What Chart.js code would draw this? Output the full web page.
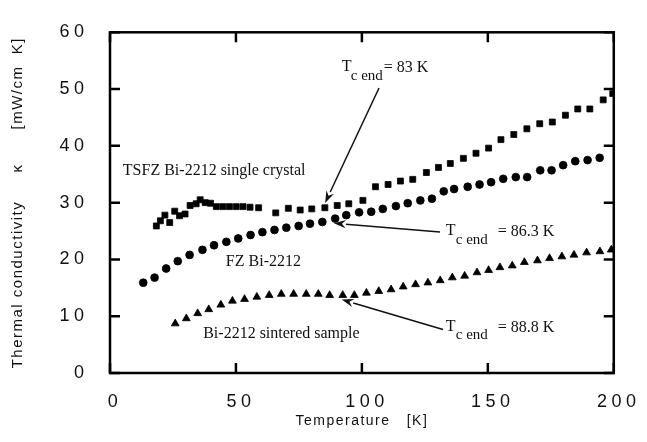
<!DOCTYPE html>
<html><head><meta charset="utf-8">
<style>html,body{margin:0;padding:0;background:#fff}canvas{display:block}</style>
<script src="https://cdn.jsdelivr.net/npm/chart.js@4.4.1/dist/chart.umd.min.js"></script>
</head><body>
<canvas id="c" width="647" height="442"></canvas>
<script>
// ---- tick labels ----
const xTickLabels = [0, 50, 100, 150, 200];
const yTickLabels = [0, 10, 20, 30, 40, 50, 60];

// ---- TSFZ Bi-2212 single crystal (squares) ----
const tsfzT = [18.4, 20.0, 21.8, 23.7, 25.7, 27.6, 29.8, 31.8, 34.2, 35.8, 37.8, 39.9, 42.2, 44.8, 47.4, 50.1, 52.8, 55.6, 59.0,
  65.8, 70.8, 75.5, 80.1, 85.3, 90.2, 94.8, 100.4, 105.4, 110.4, 115.3, 120.2, 125.6, 130.4, 135.1, 140.3, 145.3, 150.3,
  155.2, 160.3, 165.5, 170.6, 175.6, 180.8, 185.7, 190.5, 195.8, 199.6];
const tsfzK = [25.9, 26.8, 27.8, 26.5, 28.5, 27.7, 28.0, 29.5, 29.8, 30.5, 30.0, 29.9, 29.3, 29.3, 29.3, 29.3, 29.3, 29.2, 29.1,
  28.2, 29.0, 28.7, 28.9, 29.1, 29.5, 29.8, 30.4, 32.8, 33.2, 33.8, 34.1, 35.3, 36.2, 36.9, 37.8, 38.7, 39.6,
  41.1, 42.0, 43.0, 43.9, 44.2, 45.4, 46.5, 46.5, 48.1, 49.2];

// ---- FZ Bi-2212 (circles) ----
const fzT = [13.2, 17.7, 22.3, 26.9, 31.6, 36.7, 41.3, 46.2, 50.9, 55.8, 60.5, 65.3, 70.0, 74.9, 79.4, 84.3, 89.4, 93.8,
  98.9, 103.7, 108.3, 113.5, 118.2, 123.2, 127.8, 132.5, 136.6, 142.0, 146.7, 151.3, 156.1, 161.1, 165.6, 170.8, 175.3,
  179.9, 184.7, 189.6, 194.4];
const fzK = [15.9, 16.8, 18.4, 19.7, 20.8, 21.7, 22.5, 23.1, 23.7, 24.3, 24.8, 25.2, 25.6, 25.9, 26.3, 26.6, 27.2, 27.8,
  28.3, 28.4, 28.9, 29.4, 29.9, 30.4, 30.7, 32.0, 32.4, 32.8, 33.2, 33.6, 34.2, 34.5, 34.5, 35.7, 35.7,
  36.6, 37.3, 37.5, 37.9];

// ---- Bi-2212 sintered sample (triangles) ----
const sintT = [25.9, 30.3, 34.8, 39.2, 44.0, 48.6, 53.4, 58.3, 63.2, 68.0, 72.9, 77.9, 82.7, 87.2, 92.4, 97.0, 101.8,
  106.7, 111.6, 116.4, 121.3, 126.2, 131.1, 135.9, 140.8, 145.7, 150.3, 154.8, 159.7, 164.5, 169.7, 174.5, 179.4,
  184.2, 189.2, 194.5, 199.0];
const sintK = [8.7, 9.6, 10.5, 11.2, 12.0, 12.7, 13.0, 13.4, 13.7, 13.9, 13.9, 13.9, 13.9, 13.7, 13.7, 13.7, 14.1,
  14.4, 14.7, 15.2, 15.6, 15.9, 16.3, 16.8, 17.1, 17.7, 18.1, 18.6, 18.9, 19.5, 19.8, 20.2, 20.5,
  20.8, 21.2, 21.4, 21.7];

// ---- annotation texts (anchored in data units) ----
const seriesNotes = [
  {text: 'TSFZ Bi-2212 single crystal', x: 5.1, y: 34.9},
  {text: 'FZ Bi-2212', x: 46.0, y: 18.9},
  {text: 'Bi-2212 sintered sample', x: 37.0, y: 6.2}
];
const tcNotes = [
  {value: '= 83 K', x: 92.0, y: 53.1, sub: [9, 9], eq: [42, 1]},
  {value: '= 86.3 K', x: 133.3, y: 24.34, sub: [10, 9], eq: [52, 1]},
  {value: '= 88.8 K', x: 133.3, y: 7.32, sub: [10, 8], eq: [52, 0.5]}
];
const arrows = [
  {x1: 106.8, y1: 50.2, x2: 85.4, y2: 29.96},
  {x1: 131.0, y1: 24.85, x2: 88.9, y2: 26.38},
  {x1: 132.2, y1: 7.66, x2: 92.0, y2: 12.94}
];

const SANS = "'Liberation Sans', Arial, Helvetica, sans-serif";
const SERIF = "'Liberation Serif', 'Times New Roman', serif";
const toPts = (xs, ys) => xs.map((v, i) => ({x: v, y: ys[i]}));

const decor = {
  id: 'decor',
  beforeDraw(chart) {
    const ctx = chart.ctx;
    ctx.save(); ctx.fillStyle = '#fff'; ctx.fillRect(0, 0, chart.width, chart.height); ctx.restore();
    ctx.letterSpacing = '1.5px';
  },
  afterDatasetsDraw(chart) { chart.ctx.letterSpacing = '4.5px'; },
  afterDraw(chart) {
    const ctx = chart.ctx;
    ctx.letterSpacing = '0px';
    const xs = chart.scales.x, ys = chart.scales.y;
    const {left, right, top, bottom} = chart.chartArea;
    ctx.save();
    ctx.strokeStyle = '#000';
    ctx.lineWidth = 2.5;
    ctx.strokeRect(left, top, right - left, bottom - top);
    ctx.beginPath();
    xTickLabels.forEach(v => {
      const p = xs.getPixelForValue(v);
      ctx.moveTo(p, bottom); ctx.lineTo(p, bottom - 10);
      ctx.moveTo(p, top); ctx.lineTo(p, top + 10);
    });
    yTickLabels.forEach(v => {
      const p = ys.getPixelForValue(v);
      ctx.moveTo(left, p); ctx.lineTo(left + 10, p);
      ctx.moveTo(right, p); ctx.lineTo(right - 10, p);
    });
    ctx.stroke();

    ctx.fillStyle = '#111';
    ctx.textBaseline = 'alphabetic';
    ctx.textAlign = 'left';
    ctx.font = '16px ' + SERIF;
    seriesNotes.forEach(n => ctx.fillText(n.text, xs.getPixelForValue(n.x), ys.getPixelForValue(n.y)));
    tcNotes.forEach(n => {
      const px = xs.getPixelForValue(n.x), py = ys.getPixelForValue(n.y);
      ctx.font = '16px ' + SERIF;
      ctx.fillText('T', px, py);
      ctx.fillText(n.value, px + n.eq[0], py + n.eq[1]);
      ctx.font = '15px ' + SERIF;
      ctx.fillText('c end', px + n.sub[0], py + n.sub[1]);
    });

    ctx.strokeStyle = '#111'; ctx.fillStyle = '#111'; ctx.lineWidth = 1.5;
    arrows.forEach(a => {
      const x1 = xs.getPixelForValue(a.x1), y1 = ys.getPixelForValue(a.y1);
      const x2 = xs.getPixelForValue(a.x2), y2 = ys.getPixelForValue(a.y2);
      const ang = Math.atan2(y2 - y1, x2 - x1);
      const L = 12, W = 4.2;
      const bx = x2 - L * Math.cos(ang), by = y2 - L * Math.sin(ang);
      ctx.beginPath(); ctx.moveTo(x1, y1); ctx.lineTo(bx, by); ctx.stroke();
      ctx.beginPath();
      ctx.moveTo(x2, y2);
      ctx.lineTo(bx + W * Math.sin(ang), by - W * Math.cos(ang));
      ctx.lineTo(x2 - 8 * Math.cos(ang), y2 - 8 * Math.sin(ang));
      ctx.lineTo(bx - W * Math.sin(ang), by + W * Math.cos(ang));
      ctx.closePath(); ctx.fill();
    });
    ctx.restore();
  }
};

new Chart(document.getElementById('c'), {
  type: 'scatter',
  data: {
    datasets: [
      {label: 'TSFZ Bi-2212 single crystal', data: toPts(tsfzT, tsfzK), pointStyle: 'rect', pointRadius: 4.2,
        backgroundColor: '#000', borderColor: '#000', borderWidth: 0.8},
      {label: 'FZ Bi-2212', data: toPts(fzT, fzK), pointStyle: 'circle', pointRadius: 3.9,
        backgroundColor: '#000', borderColor: '#000', borderWidth: 0.8},
      {label: 'Bi-2212 sintered sample', data: toPts(sintT, sintK), pointStyle: 'triangle', pointRadius: 4.5,
        backgroundColor: '#000', borderColor: '#000', borderWidth: 0.8}
    ]
  },
  options: {
    responsive: false,
    animation: false,
    layout: {padding: {left: 0, right: 24, top: 20.5, bottom: 0}},
    plugins: {legend: {display: false}, tooltip: {enabled: false}},
    scales: {
      x: {
        type: 'linear', min: 0, max: 200,
        afterBuildTicks: s => { s.ticks = xTickLabels.map(v => ({value: v})); },
        afterFit: s => { s.height = 69; },
        grid: {display: false, drawTicks: false, tickLength: 0},
        border: {display: false},
        ticks: {font: {family: SANS, size: 18}, color: '#111', padding: 18.2, labelOffset: 5,
          maxRotation: 0, autoSkip: false, z: 1},
        title: {display: true, text: 'Temperature   [K]', font: {family: SANS, size: 14}, color: '#111',
          padding: {top: 0, bottom: 12.6}}
      },
      y: {
        type: 'linear', min: 0, max: 60,
        afterBuildTicks: s => { s.ticks = yTickLabels.map(v => ({value: v})); },
        afterFit: s => { s.width = 110; },
        grid: {display: false, drawTicks: false, tickLength: 0},
        border: {display: false},
        ticks: {font: {family: SANS, size: 18}, color: '#111', padding: 21.5, autoSkip: false, z: 1},
        title: {display: true, text: 'Thermal conductivity     κ      [mW/cm  K]', font: {family: SANS, size: 15},
          color: '#111', padding: {top: 9, bottom: 0}}
      }
    }
  },
  plugins: [decor]
});
</script>
</body></html>
